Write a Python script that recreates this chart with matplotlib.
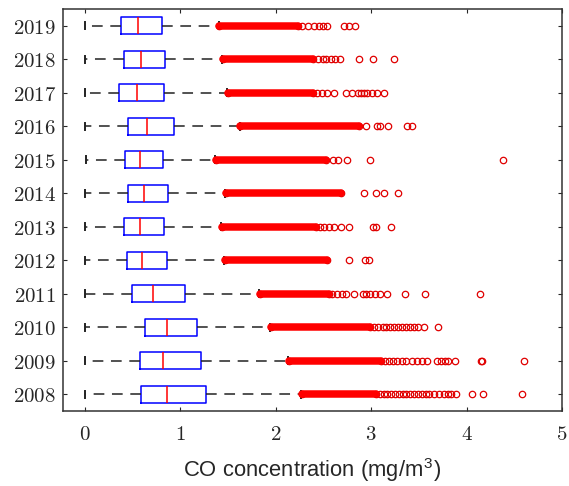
import matplotlib
matplotlib.use('Agg')
import matplotlib.pyplot as plt

plt.rcParams['mathtext.fontset'] = 'cm'

# years, bottom to top
years = [2008, 2009, 2010, 2011, 2012, 2013, 2014, 2015, 2016, 2017, 2018, 2019]

# box statistics (mg/m3)
whis_lo = [0.0, 0.0, 0.0, 0.0, 0.0, 0.0, 0.0, 0.01, 0.0, 0.0, 0.0, 0.0]
q1 = [0.589, 0.574, 0.630, 0.491, 0.436, 0.408, 0.450, 0.423, 0.450, 0.353, 0.408, 0.381]
med = [0.865, 0.823, 0.865, 0.713, 0.602, 0.574, 0.620, 0.574, 0.647, 0.550, 0.592, 0.553]
q3 = [1.267, 1.212, 1.170, 1.046, 0.859, 0.828, 0.869, 0.813, 0.938, 0.828, 0.841, 0.810]
whis_hi = [2.26, 2.13, 1.94, 1.82, 1.46, 1.43, 1.47, 1.36, 1.62, 1.49, 1.44, 1.40]

# outliers: a dense run (start, end) plus the separate circles
dense_start = [2.27, 2.14, 1.95, 1.83, 1.47, 1.44, 1.48, 1.37, 1.63, 1.50, 1.45, 1.41]
dense_end = [3.05, 3.10, 2.99, 2.56, 2.54, 2.42, 2.68, 2.53, 2.87, 2.39, 2.39, 2.23]
sparse = [
    [3.09, 3.13, 3.17, 3.21, 3.25, 3.29, 3.33, 3.37, 3.41, 3.45, 3.49, 3.53,
     3.57, 3.61, 3.66, 3.71, 3.76, 3.81, 3.84, 3.89, 4.06, 4.17, 4.58],
    [3.15, 3.19, 3.23, 3.27, 3.32, 3.37, 3.43, 3.48, 3.53, 3.58, 3.69, 3.73,
     3.77, 3.81, 3.88, 4.15, 4.16, 4.60],
    [3.03, 3.07, 3.12, 3.16, 3.20, 3.24, 3.28, 3.32, 3.36, 3.41, 3.45, 3.49,
     3.55, 3.70],
    [2.59, 2.64, 2.69, 2.74, 2.82, 2.91, 2.95, 2.99, 3.04, 3.09, 3.17, 3.35,
     3.56, 4.14],
    [2.77, 2.94, 2.98],
    [2.46, 2.51, 2.56, 2.61, 2.68, 2.77, 3.02, 3.05, 3.21],
    [2.92, 3.05, 3.13, 3.28],
    [2.60, 2.65, 2.75, 2.99, 4.38],
    [2.95, 3.06, 3.09, 3.18, 3.38, 3.43],
    [2.43, 2.48, 2.54, 2.61, 2.74, 2.80, 2.86, 2.89, 2.93, 2.96, 3.01, 3.06,
     3.13],
    [2.44, 2.49, 2.53, 2.58, 2.62, 2.67, 2.87, 3.02, 3.24],
    [2.28, 2.34, 2.40, 2.45, 2.50, 2.54, 2.72, 2.77, 2.83],
]

stats = []
for i in range(len(years)):
    stats.append({'whislo': whis_lo[i], 'q1': q1[i], 'med': med[i],
                  'q3': q3[i], 'whishi': whis_hi[i],
                  'fliers': [dense_start[i], dense_end[i]] + sparse[i]})

pos = list(range(1, len(years) + 1))

fig = plt.figure(figsize=(5.69, 4.86), dpi=100)
ax = fig.add_axes([0.1107, 0.1543, 0.8770, 0.8272])

ax.bxp(stats, positions=pos, widths=0.5, orientation='horizontal',
       capwidths=0.22,
       boxprops=dict(color='#0000ff', lw=1.1),
       medianprops=dict(color='#ff0000', lw=1.1),
       whiskerprops=dict(color='#222222', lw=1.1, linestyle=(0, (7, 5))),
       capprops=dict(color='#222222', lw=1.4),
       flierprops=dict(marker='o', markersize=4.6, markerfacecolor='none',
                       markeredgecolor='#e00000', markeredgewidth=0.9))

# dense outlier runs
for i in range(len(years)):
    ax.plot([dense_start[i], dense_end[i]], [pos[i], pos[i]], color='#ff0000',
            lw=5.4, solid_capstyle='round', zorder=3)

ax.set_xlim(-0.23, 5)
ax.set_ylim(0.5, 12.5)
ax.set_xticks([0, 1, 2, 3, 4, 5])
ax.set_xticklabels(['$%d$' % v for v in [0, 1, 2, 3, 4, 5]])
ax.set_yticks(pos)
ax.set_yticklabels(['$%d$' % y for y in years])

ax.tick_params(direction='in', length=3, width=0.8, colors='#262626',
               top=True, right=True, labelsize=15)
ax.tick_params(axis='x', pad=9)
ax.tick_params(axis='y', pad=5)
for s in ax.spines.values():
    s.set_color('#333333')
    s.set_linewidth(1.1)

ax.set_xlabel(r'CO concentration (mg/m$^{\mathregular{3}}$)', family='Liberation Sans',
              fontsize=15.8, color='#262626', labelpad=9)

plt.savefig('out.png', dpi=100)
